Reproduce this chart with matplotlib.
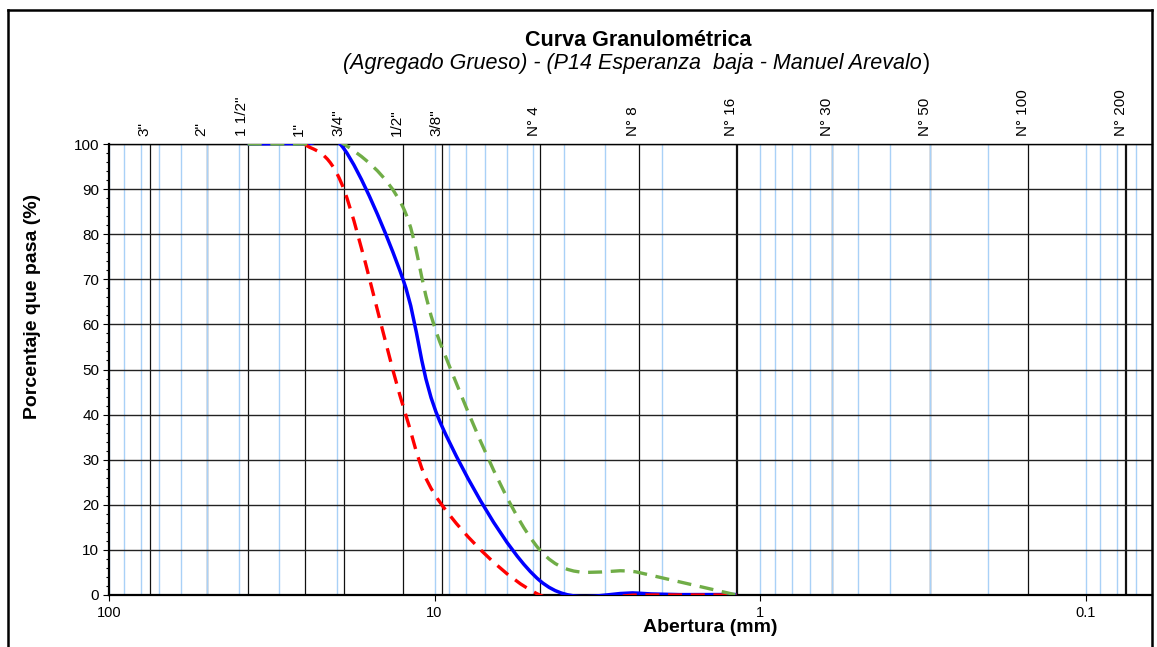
import numpy as np
import matplotlib
matplotlib.use("Agg")
import matplotlib.pyplot as plt
from matplotlib.path import Path
from matplotlib.patches import PathPatch
from matplotlib.lines import Line2D
from matplotlib import transforms
from matplotlib.ticker import FixedLocator, FixedFormatter, MultipleLocator, LogLocator, NullFormatter

plt.rcParams['font.family'] = ['Liberation Sans', 'DejaVu Sans']

# Tamices ASTM (abertura en mm)
sieve_labels = ['3"', '2"', '1 1/2"', '1"', '3/4"', '1/2"', '3/8"',
                'N° 4', 'N° 8', 'N° 16', 'N° 30', 'N° 50', 'N° 100', 'N° 200']
sieve_mm = [75, 50, 37.5, 25, 19, 12.5, 9.5, 4.75, 2.36, 1.18, 0.6, 0.3, 0.15, 0.075]

# Muestra ensayada
sample_mm = [37.5, 25, 19, 12.5, 9.5, 4.75, 2.36, 1.18]
sample_pass = [100, 100, 99, 70, 37.5, 3.2, 0.4, 0.1]

# Limites del huso granulometrico
lower_mm = [25, 19, 12.5, 9.5, 4.75, 2.36, 1.18]
lower_pass = [100, 90, 42, 20, 0, 0, 0]
upper_mm = [37.5, 25, 19, 12.5, 9.5, 4.75, 2.36, 1.18]
upper_pass = [100, 100, 100, 86, 55, 10, 5, 0]


def smooth_path(x, y):
    # curva suavizada (Catmull-Rom -> Bezier) en escala log, como Excel
    pts = np.column_stack([np.log10(x), np.asarray(y, float)])
    n = len(pts)
    verts = [pts[0]]
    codes = [Path.MOVETO]
    for i in range(n - 1):
        p0 = pts[max(i - 1, 0)]
        p1 = pts[i]
        p2 = pts[i + 1]
        p3 = pts[min(i + 2, n - 1)]
        verts += [p1 + (p2 - p0) / 6, p2 - (p3 - p1) / 6, p2]
        codes += [Path.CURVE4] * 3
    verts = np.array(verts)
    verts[:, 0] = 10 ** verts[:, 0]
    return Path(verts, codes)


fig = plt.figure(figsize=(11.57, 6.47), dpi=100)
ax = fig.add_axes([109 / 1157, 1 - 595 / 647, (1152 - 109) / 1157, (595 - 144) / 647])

ax.set_xscale('log')
ax.set_xlim(100, 0.0625)
ax.set_ylim(0, 100)

# rejilla: divisiones log en celeste, tamices en negro
ax.xaxis.set_major_locator(FixedLocator([100, 10, 1, 0.1]))
ax.xaxis.set_major_formatter(FixedFormatter(['100', '10', '1', '0.1']))
ax.xaxis.set_minor_locator(LogLocator(base=10, subs=np.arange(2, 10)))
ax.xaxis.set_minor_formatter(NullFormatter())
ax.grid(True, axis='x', which='both', color='#a9d1f7', lw=1.0, zorder=0)
ax.yaxis.set_major_locator(MultipleLocator(10))
ax.yaxis.set_minor_locator(MultipleLocator(2))
ax.grid(True, axis='y', which='major', color='#222222', lw=1.0, zorder=1)

for d in sieve_mm:
    lw = 1.6 if d in (1.18, 0.075) else 0.9
    ax.axvline(d, color='#111111', lw=lw, zorder=1)

ax.tick_params(axis='x', which='major', direction='out', length=4, width=0.8,
               labelsize=10.5, pad=4)
ax.tick_params(axis='x', which='minor', length=0)
ax.tick_params(axis='y', which='major', direction='out', length=4, width=0.8,
               labelsize=11, pad=3)
ax.tick_params(axis='y', which='minor', direction='out', length=2.3, width=0.8)

for s in ('left', 'bottom'):
    ax.spines[s].set_linewidth(1.6)
ax.spines['top'].set_linewidth(1.0)
ax.spines['right'].set_visible(False)

# curvas
ax.add_patch(PathPatch(smooth_path(sample_mm, sample_pass), fill=False,
                       edgecolor='#0000ff', lw=2.5, zorder=3))
ax.add_patch(PathPatch(smooth_path(lower_mm, lower_pass), fill=False,
                       edgecolor='#ff0000', lw=2.4, ls=(0, (4.2, 2.6)),
                       capstyle='butt', zorder=4))
ax.add_patch(PathPatch(smooth_path(upper_mm, upper_pass), fill=False,
                       edgecolor='#70ad47', lw=2.4, ls=(0, (4.2, 2.6)),
                       capstyle='butt', zorder=5))

# nombres de tamices arriba
trans = transforms.blended_transform_factory(ax.transData, ax.transAxes)
for lab, d in zip(sieve_labels, sieve_mm):
    ax.annotate(lab, xy=(d, 1.0), xycoords=trans, xytext=(1, 6),
                textcoords='offset points', rotation=90, ha='right', va='bottom',
                fontsize=11, annotation_clip=False)

# titulos
fig.text(638 / 1157, 1 - 40 / 647, 'Curva Granulométrica', ha='center', va='center',
         fontsize=15.5, fontweight='bold')
sub = fig.text(343 / 1157, 1 - 64 / 647,
               '(Agregado Grueso) - (P14 Esperanza  baja - Manuel Arevalo',
               ha='left', va='center', fontsize=15.5, fontstyle='italic')
close = fig.text(0, 1 - 64 / 647, ')', fontsize=15.5, ha='left', va='center')
fig.text(33 / 1157, 1 - 306 / 647, 'Porcentaje que pasa (%)', rotation=90,
         ha='center', va='center', fontsize=14, fontweight='bold')
fig.text(710 / 1157, 1 - 627 / 647, 'Abertura (mm)', ha='center', va='center',
         fontsize=14, fontweight='bold')

# marco exterior
fx0, fx1, fy1 = 8 / 1157, 1152 / 1157, 1 - 10 / 647
for xs, ys in (([fx0, fx0], [-0.1, fy1]), ([fx0, fx1], [fy1, fy1]), ([fx1, fx1], [fy1, -0.1])):
    fig.add_artist(Line2D(xs, ys, color='black', lw=1.8, transform=fig.transFigure))

# parentesis final en letra normal, justo tras el subtitulo
fig.canvas.draw()
bb = sub.get_window_extent()
close.set_x(fig.transFigure.inverted().transform((bb.x1 + 1, 0))[0])

fig.savefig('out.png', dpi=100)
